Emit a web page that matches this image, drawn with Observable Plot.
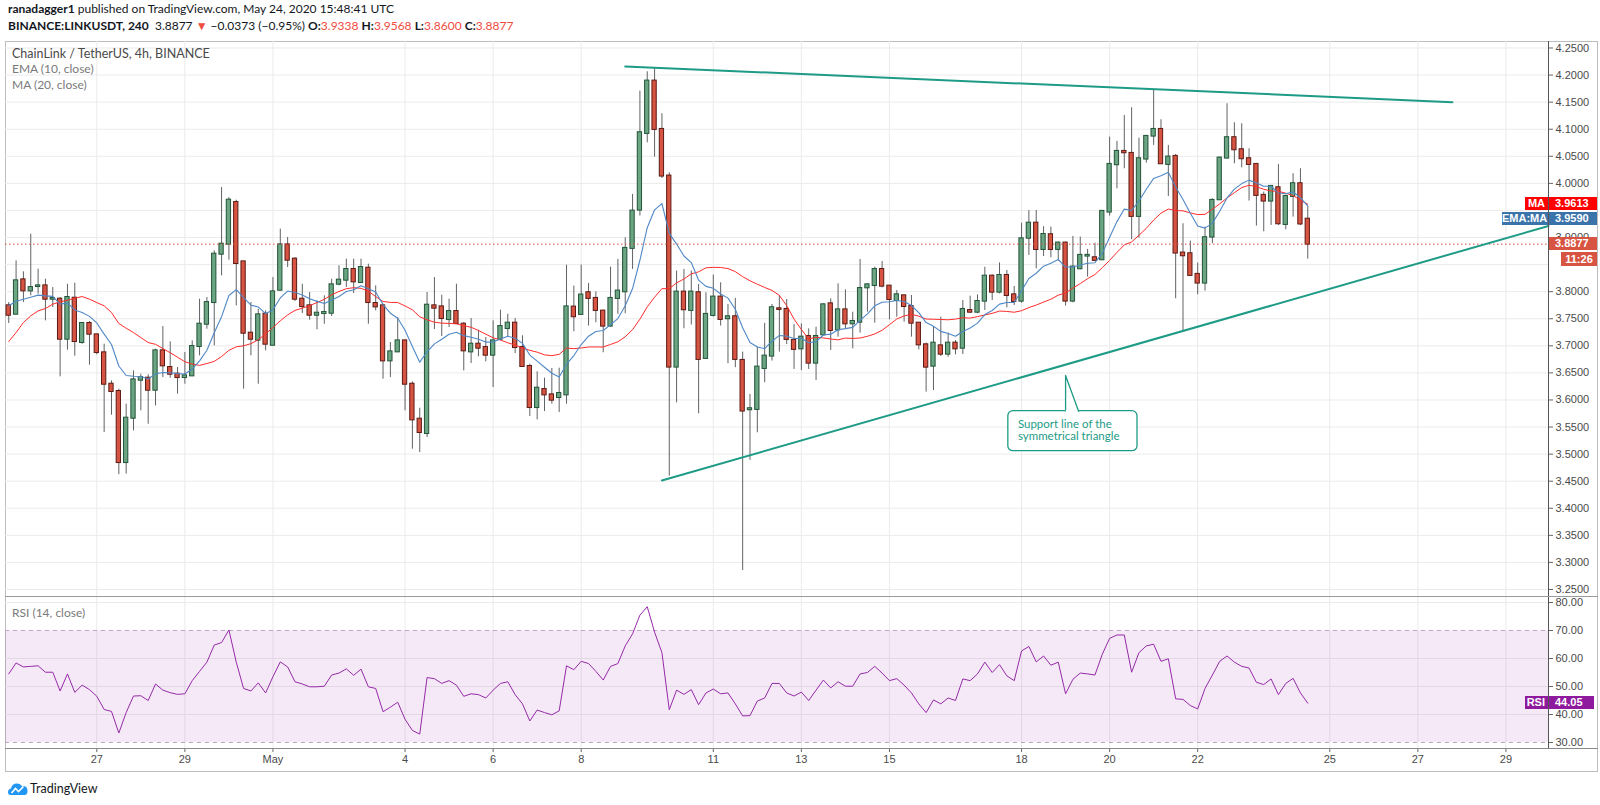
<!DOCTYPE html>
<html>
<head>
<meta charset="utf-8">
<script src="https://cdn.jsdelivr.net/npm/d3@7"></script>
<script src="https://cdn.jsdelivr.net/npm/@observablehq/plot@0.6"></script>
<style>
html, body { margin:0; padding:0; background:#fff; }
body { width:1600px; height:805px; position:relative; overflow:hidden; font-family: Lato, "Open Sans", sans-serif; color:#131722; }
.abs { position:absolute; white-space:nowrap; }
.hdr { left:8px; font-size:12px; line-height:15px; }
.red { color:#ef4b3f; }
.leg { left:12px; font-size:12px; line-height:15px; color:#7a7a7a; }
.box { position:absolute; color:#fff; font: bold 11px "Liberation Sans", Arial, sans-serif; box-sizing:border-box; white-space:nowrap; }
.ln { position:absolute; }
</style>
</head>
<body>
<div class="abs hdr" style="top:1px"><b>ranadagger1</b> published on TradingView.com, May 24, 2020 15:48:41 UTC</div>
<div class="abs hdr" id="quote" style="top:18px"></div>
<div class="abs" style="left:5px;top:41px;width:1593px;height:731px;border:1px solid #bdbdbd;box-sizing:border-box"></div>
<div class="abs" id="mainWrap" style="left:0;top:41px"></div>
<div class="abs" id="rsiWrap" style="left:0;top:597px"></div>
<div class="ln" style="left:1548px;top:41px;width:1px;height:707px;background:#555"></div>
<div class="ln" style="left:5px;top:596px;width:1593px;height:1px;background:#9a9a9a"></div>
<div class="ln" style="left:5px;top:748px;width:1593px;height:1px;background:#8a8a8a"></div>
<div class="abs leg" style="top:46px;color:#4a4a4a;font-size:12.5px">ChainLink / TetherUS, 4h, BINANCE</div>
<div class="abs leg" style="top:61px">EMA (10, close)</div>
<div class="abs leg" style="top:77px">MA (20, close)</div>
<div class="abs leg" style="top:605px">RSI (14, close)</div>
<div class="abs" style="left:8px;top:781px">
  <svg width="20" height="16" viewBox="0 0 20 16"><path d="M2.5 14 Q0 14 0 11 Q0 8 3 7.5 Q4 2.5 9 2.5 Q12.5 2.5 14 5.5 Q15 4.8 16.5 5.2 Q19.5 6 19.5 10 Q19.5 14 16.5 14 Z" fill="#2196f3"/><polyline points="3.5,12 7.5,7.5 10.5,10.5 15.5,5.5" fill="none" stroke="#fff" stroke-width="1.6"/></svg>
</div>
<div class="abs" style="left:30px;top:781px;font-size:12.5px;color:#131722">TradingView</div>
<div id="labels"></div>
<script>
// ---- data (4h candles, first bar 2020-04-25 00:00 UTC) ----
const firstBarTime = "2020-04-25T00:00:00Z";
const barHours = 4;
const opens = [3.7738,3.7584,3.8218,3.8015,3.8095,3.8107,3.7861,3.7861,3.7122,3.7879,3.7061,3.7412,
3.7202,3.6870,3.6291,3.6156,3.4844,3.5663,3.6365,3.6402,3.6180,3.6907,
3.6599,3.6476,3.6414,3.6445,3.6987,3.7399,3.7799,3.8692,3.8877,3.9646,
3.8550,3.7233,3.7104,3.7584,3.7011,3.8027,3.8864,3.8600,3.7861,3.7738,
3.7565,3.7596,3.7602,3.8138,3.8212,3.8409,3.8169,3.8433,3.7781,3.7738,
3.6722,3.6888,3.7091,3.6291,3.5645,3.5380,3.7738,3.7719,3.7485,3.7633,
3.7399,3.6888,3.7030,3.6968,3.6827,3.7122,3.7319,3.7418,3.6968,3.6618,
3.5860,3.6193,3.6094,3.6045,3.6094,3.7715,3.7580,3.7980,3.7875,3.7641,
3.7364,3.7875,3.7998,3.8799,3.9507,4.0922,4.1889,4.0996,4.0135,3.6607,
3.7992,3.7654,3.7980,3.6767,3.7561,3.7900,3.7500,3.7537,3.6730,3.5819,
3.5825,3.6582,3.6810,3.7684,3.7672,3.7100,3.6944,3.7172,3.6680,3.7203,
3.7775,3.7295,3.7664,3.7406,3.7437,3.8071,3.8114,3.8409,3.8102,3.7837,
3.7923,3.7726,3.7418,3.7018,3.6624,3.6999,3.6846,3.7049,3.6956,3.7652,
3.7621,3.7825,3.8286,3.7991,3.8299,3.7941,3.7825,3.8988,3.9265,3.8779,
3.9051,3.8780,3.8897,3.7826,3.8423,3.8657,3.8626,3.8589,3.9470,4.0344,
4.0590,4.0553,3.9390,4.0449,4.0873,4.0996,4.0350,4.0498,3.8713,3.8700,
3.8319,3.8159,3.9008,3.9697,4.0467,4.0843,4.0621,4.0455,4.0350,3.9778,
3.9673,3.9919,3.9242,3.9759,3.9993,3.9338];
const highs = [3.7799,3.8569,3.8366,3.9061,3.8415,3.8230,3.8076,3.7892,3.8138,3.8156,3.7430,3.7448,
3.7215,3.7030,3.6353,3.6199,3.5922,3.6537,3.6476,3.6464,3.6938,3.7356,
3.7073,3.6599,3.6876,3.7091,3.7861,3.7892,3.8754,3.9923,3.9738,3.9689,
3.8550,3.7799,3.7676,3.7645,3.8261,3.9154,3.9000,3.8630,3.8138,3.7984,
3.7830,3.7923,3.8230,3.8477,3.8600,3.8600,3.8600,3.8507,3.8107,3.7769,
3.7061,3.7522,3.7104,3.6334,3.5848,3.7984,3.8261,3.7935,3.7861,3.8138,
3.7430,3.7504,3.7288,3.7153,3.7461,3.7658,3.7584,3.7504,3.7184,3.6661,
3.6519,3.6402,3.6581,3.6587,3.8489,3.8103,3.8491,3.8152,3.7998,3.7654,
3.8454,3.8596,3.8996,3.9796,4.1704,4.2061,4.2135,4.1286,4.0196,3.8380,
3.8411,3.8380,3.8134,3.7980,3.8306,3.8165,3.7764,3.7875,3.6884,3.6102,
3.6977,3.7414,3.7764,3.7918,3.7857,3.7395,3.7406,3.7314,3.7344,3.7775,
3.7868,3.8145,3.8034,3.7621,3.8594,3.8145,3.8452,3.8557,3.8102,3.8022,
3.7929,3.7929,3.7418,3.7049,3.7344,3.7529,3.7234,3.7098,3.7837,3.7917,
3.7941,3.8452,3.8311,3.8532,3.8391,3.8095,3.9265,3.9499,3.9499,3.9200,
3.9193,3.8916,3.8916,3.9020,3.9008,3.8780,3.8897,3.9501,4.0855,4.0775,
4.1255,4.1397,4.0836,4.0886,4.1729,4.1175,4.0701,4.0535,3.9254,3.8934,
3.8528,3.9193,3.9716,4.0485,4.1470,4.1120,4.1101,4.0639,4.0362,3.9839,
3.9962,4.0350,3.9778,4.0178,4.0270,3.9568];
const lows = [3.7412,3.7570,3.7799,3.7923,3.7953,3.7461,3.7707,3.6427,3.6919,3.6808,3.7030,3.6642,
3.6833,3.5399,3.5719,3.4620,3.4630,3.5429,3.5799,3.5552,3.5891,3.6414,
3.6402,3.6107,3.6291,3.6433,3.6814,3.7307,3.6999,3.8292,3.8581,3.7738,
3.6199,3.6814,3.6291,3.6907,3.6999,3.8015,3.8446,3.7818,3.7596,3.7473,
3.7295,3.7399,3.7541,3.8107,3.8076,3.7966,3.8156,3.7399,3.7645,3.6384,
3.6414,3.6876,3.5799,3.5091,3.5029,3.5306,3.7301,3.7171,3.7338,3.7399,
3.6537,3.6673,3.6796,3.6704,3.6230,3.7091,3.7153,3.6857,3.6599,3.5694,
3.5632,3.5786,3.5922,3.5768,3.5922,3.7260,3.7567,3.7364,3.7426,3.6872,
3.7346,3.7580,3.7592,3.8411,3.9396,4.0750,4.0485,4.0091,3.4594,3.5948,
3.7315,3.7383,3.5745,3.6760,3.7531,3.7364,3.6669,3.6595,3.2850,3.4884,
3.5394,3.6318,3.6718,3.6884,3.7026,3.6564,3.6544,3.6563,3.6359,3.7190,
3.6913,3.7160,3.7314,3.6944,3.7234,3.7621,3.7418,3.8071,3.7480,3.7529,
3.7437,3.7160,3.6926,3.6144,3.6175,3.6803,3.6790,3.6833,3.6839,3.7603,
3.7591,3.7652,3.7837,3.7960,3.7701,3.7744,3.7788,3.8668,3.8422,3.8649,
3.8626,3.8565,3.7734,3.7795,3.8405,3.8269,3.8565,3.8577,3.9396,3.9901,
4.0270,3.8959,3.8990,4.0375,4.0701,4.0350,3.9759,3.7869,3.7280,3.8282,
3.7943,3.8011,3.8885,3.9685,4.0455,4.0362,4.0288,3.9673,3.9211,3.9106,
3.9223,3.9223,3.9143,3.9377,3.9220,3.8600];
const closes = [3.7565,3.8200,3.8015,3.8076,3.8107,3.7861,3.7873,3.7122,3.7892,3.7079,3.7412,3.7215,
3.6876,3.6291,3.6156,3.4844,3.5663,3.6371,3.6414,3.6180,3.6907,3.6630,
3.6476,3.6414,3.6445,3.6987,3.7399,3.7799,3.8692,3.8877,3.9689,3.8520,
3.7233,3.7122,3.7572,3.7030,3.7996,3.8864,3.8581,3.7861,3.7725,3.7565,
3.7602,3.7615,3.8126,3.8212,3.8409,3.8181,3.8446,3.7799,3.7719,3.6722,
3.6888,3.7091,3.6291,3.5632,3.5399,3.7750,3.7695,3.7504,3.7633,3.7412,
3.6907,3.7030,3.6956,3.6827,3.7091,3.7356,3.7418,3.6968,3.6618,3.5860,
3.6217,3.6094,3.5996,3.6119,3.7719,3.7537,3.7937,3.7875,3.7654,3.7364,
3.7875,3.8011,3.8799,3.9488,4.0935,4.1889,4.0996,4.0135,3.6607,3.7992,
3.7666,3.7992,3.6749,3.7580,3.7900,3.7487,3.7537,3.6749,3.5795,3.5838,
3.6607,3.6810,3.7703,3.7672,3.7118,3.6934,3.7160,3.6680,3.7172,3.7757,
3.7283,3.7664,3.7406,3.7449,3.8058,3.8126,3.8409,3.8102,3.7855,3.7942,
3.7726,3.7418,3.7018,3.6606,3.7049,3.6846,3.7049,3.6944,3.7671,3.7621,
3.7818,3.8286,3.7991,3.8299,3.7929,3.7818,3.8976,3.9265,3.8779,3.9056,
3.8780,3.8897,3.7826,3.8454,3.8670,3.8670,3.8577,3.9482,4.0350,4.0590,
4.0565,3.9390,4.0455,4.0867,4.0996,4.0362,4.0486,3.8713,3.8663,3.8300,
3.8159,3.8996,3.9685,4.0467,4.0843,4.0621,4.0455,4.0350,3.9778,3.9673,
3.9944,3.9254,3.9759,3.9993,3.9250,3.8877];
const rsiValues = [54.5,58.4,57,57.2,57.4,55.1,55.1,48.4,54.5,47.9,50.5,48.9,
46.5,41.8,41.1,33.4,40.7,46.6,46.7,45,50.9,48.7,
47.8,47.2,47.4,52.1,55.4,58.7,64.8,65.7,70.2,58.7,
49.3,48.4,51.3,47.7,53.5,58.8,57,51.7,50.9,49.9,
49.9,50.1,54.1,54.8,56.3,54,56.2,49.9,49.3,41,
42.6,44.4,38.3,34.3,33,53.2,52.8,51.1,52.1,50.5,
46.5,47.4,47.1,45.9,48.7,51.1,51.7,47.1,43.8,37.7,
41.6,40.7,39.9,41.3,57.4,56,59,58.2,55.4,52.3,
57.2,58.2,64.5,68.8,75.5,78.5,69.4,62.1,41.7,48.7,
47.2,48.9,43.5,47.7,49.1,47.4,47.7,43.8,39.5,39.6,
44.8,45.9,51.1,51.1,47.7,46.6,48,45,48.7,52.3,
49.5,51.7,50.1,50.1,54.5,55,57.2,54.8,52.1,52.8,
50.5,47.7,43.8,40.7,45.2,43.8,45.9,45,52.7,52.1,
54.5,58.7,55,57.8,53.8,52.1,62.7,64.3,58.8,60.9,
57.6,58.7,47.4,52.6,54.8,54.5,54.1,61.5,67.2,68.4,
68.4,55.1,62.1,64.5,65.1,59,59.9,45.6,45.4,43.2,
42,49.3,54.1,59,60.9,58.7,57.2,56.6,51.5,50.7,
52.7,47.1,51.1,52.9,47.7,44.05];
// MA(20) values for the first 19 bars (before a full window exists)
const maHead = [3.7079,3.7245,3.7430,3.7553,3.7645,3.7688,3.7769,3.7812,3.7842,3.7879,3.7910,3.7861,3.7799,3.7738,3.7615,3.7412,3.7325,3.7245,3.7153];
const emaSeed = 3.774;  // EMA(10) at first bar
const emaLength = 10, maLength = 20;
// ---- axes ----
const xDomain = ["2020-04-24T22:14:00Z", "2020-05-29T23:12:00Z"];
const priceDomain = [3.2352, 4.262];
const rsiDomain = [27.86, 81.79];
const priceTicks = [4.25,4.20,4.15,4.10,4.05,4.00,3.95,3.90,3.85,3.80,3.75,3.70,3.65,3.60,3.55,3.50,3.45,3.40,3.35,3.30,3.25];
const hiddenPriceTicks = [3.95, 3.85]; // covered by the value labels on the price scale
const rsiTicks = [80,70,60,50,40,30];
const rsiGrid = [80,60,50,40];
const rsiBand = [30,70];
const tickDates = ["2020-04-27","2020-04-29","2020-05-01","2020-05-04","2020-05-06","2020-05-08","2020-05-11","2020-05-13","2020-05-15","2020-05-18","2020-05-20","2020-05-22","2020-05-25","2020-05-27","2020-05-29"];
const tickLabels = ["27","29","May","4","6","8","11","13","15","18","20","22","25","27","29"];
// ---- drawings ----
const resistanceLine = [{t:"2020-05-09T00:00:00Z", p:4.216},{t:"2020-05-27T18:50:00Z", p:4.150}];
const supportLine = [{t:"2020-05-09T20:00:00Z", p:3.4513},{t:"2020-05-29T23:12:00Z", p:3.9213}];
const calloutText = "Support line of the\nsymmetrical triangle";
const calloutTip = [{t:"2020-05-19T00:00:00Z", p:3.5793},{t:"2020-05-19T00:00:00Z", p:3.6452},{t:"2020-05-19T07:05:00Z", p:3.5793}];
const calloutBox = {t1:"2020-05-17T16:48:00Z", t2:"2020-05-20T15:12:00Z", p1:3.5054, p2:3.5793};
const calloutTextAt = {t:"2020-05-17T22:00:00Z", p:3.5445};
const headerQuote = {last:"3.8877", change:"−0.0373", pct:"(−0.95%)"};
const labelValues = {ma:"3.9613", ema:"3.9590", price:"3.8877", timer:"11:26", rsi:"44.05"};

// ---- derived ----
const D = s => new Date(s);
const t0 = Date.parse(firstBarTime), barMs = barHours*3600e3;
const bars = closes.map((c,k) => ({t:new Date(t0 + k*barMs), o:opens[k], h:highs[k], l:lows[k], c, rsi:rsiValues[k]}));
const alpha = 2/(emaLength+1);
const ema = [];
bars.forEach((d,k) => ema.push({t:d.t, v: k===0 ? emaSeed : alpha*d.c + (1-alpha)*ema[k-1].v}));
const ma = bars.map((d,k) => ({t:d.t, v: k < maLength-1 ? maHead[k] : d3.mean(closes.slice(k-maLength+1, k+1))}));
const up = bars.filter(d => d.c >= d.o), dn = bars.filter(d => d.c < d.o);
const half = 70*60e3;
const X1 = d => new Date(+d.t - half), X2 = d => new Date(+d.t + half);
const ticksD = tickDates.map(D);
const labelOf = new Map(ticksD.map((d,k) => [+d, tickLabels[k]]));
const teal = "#1e9b86";
const axisFont = "'Liberation Sans', Arial, sans-serif";
const last = bars[bars.length-1];
const shownPriceTicks = priceTicks.filter(v => !hiddenPriceTicks.includes(v));

document.getElementById("quote").innerHTML =
  `<b>BINANCE:LINKUSDT, 240</b>&nbsp; ${headerQuote.last} <span class="red">▼</span> ${headerQuote.change} ${headerQuote.pct} ` +
  `<b>O:</b><span class="red">${last.o.toFixed(4)}</span> <b>H:</b><span class="red">${last.h.toFixed(4)}</span> ` +
  `<b>L:</b><span class="red">${last.l.toFixed(4)}</span> <b>C:</b><span class="red">${last.c.toFixed(4)}</span>`;

const main = Plot.plot({
  width: 1600, height: 556,
  marginLeft: 5, marginRight: 52, marginTop: 0, marginBottom: 0,
  x: {type: "utc", domain: xDomain.map(D), axis: null},
  y: {domain: priceDomain, axis: null},
  style: {fontFamily: axisFont, fontSize: "11px", background: "transparent", overflow: "visible"},
  marks: [
    Plot.ruleY(priceTicks, {stroke: "#ebebeb"}),
    Plot.ruleX(ticksD, {stroke: "#ebebeb"}),
    Plot.axisY(shownPriceTicks, {anchor: "right", tickFormat: d => d.toFixed(4), tickSize: 4, tickPadding: 3, fill: "#4a4a4a", stroke: "#666", fontSize: 11}),
    Plot.ruleX(bars, {x: "t", y1: "l", y2: "h", stroke: "#5f6266", strokeWidth: 1}),
    Plot.rect(up, {x1: X1, x2: X2, y1: "o", y2: "c", fill: "#6ba583", stroke: "#225437", strokeWidth: 1, insetTop: -0.5, insetBottom: -0.5}),
    Plot.rect(dn, {x1: X1, x2: X2, y1: "o", y2: "c", fill: "#d75442", stroke: "#5b1a13", strokeWidth: 1, insetTop: -0.5, insetBottom: -0.5}),
    Plot.line(ma, {x: "t", y: "v", stroke: "#ff2b2b", strokeWidth: 1}),
    Plot.line(ema, {x: "t", y: "v", stroke: "#4f88c6", strokeWidth: 1.1}),
    Plot.ruleY([last.c], {stroke: "#d75442", strokeDasharray: "1.5,2.5"}),
    Plot.line(resistanceLine, {x: d => D(d.t), y: "p", stroke: teal, strokeWidth: 2}),
    Plot.line(supportLine, {x: d => D(d.t), y: "p", stroke: teal, strokeWidth: 2}),
    Plot.rect([calloutBox], {x1: d => D(d.t1), x2: d => D(d.t2), y1: "p1", y2: "p2", fill: "white", stroke: teal, strokeWidth: 1.3, rx: 5}),
    Plot.line(calloutTip, {x: d => D(d.t), y: "p", stroke: teal, fill: "white", strokeWidth: 1.3}),
    Plot.ruleY([calloutTip[0]], {y: "p", x1: d => new Date(+D(d.t) + 20*60e3), x2: () => new Date(+D(calloutTip[2].t) - 25*60e3), stroke: "white", strokeWidth: 2}),
    Plot.text([calloutTextAt], {x: d => D(d.t), y: "p", text: () => calloutText, textAnchor: "start", lineAnchor: "middle", fill: teal, fontSize: 11.5, lineHeight: 1.08, fontFamily: "Lato, 'Open Sans', sans-serif"})
  ]
});
document.getElementById("mainWrap").append(main);

const rsiPlot = Plot.plot({
  width: 1600, height: 175,
  marginLeft: 5, marginRight: 52, marginTop: 0, marginBottom: 24,
  x: {type: "utc", domain: xDomain.map(D), axis: null},
  y: {domain: rsiDomain, axis: null},
  style: {fontFamily: axisFont, fontSize: "11px", background: "transparent", overflow: "visible"},
  marks: [
    Plot.ruleX(ticksD, {stroke: "#ebebeb"}),
    Plot.ruleY(rsiGrid, {stroke: "#ebebeb"}),
    Plot.rect([{t1: D(xDomain[0]), t2: D(xDomain[1]), r1: rsiBand[0], r2: rsiBand[1]}], {x1: "t1", x2: "t2", y1: "r1", y2: "r2", fill: "#9c27b0", fillOpacity: 0.1}),
    Plot.ruleY(rsiBand, {stroke: "#b9a8c0", strokeDasharray: "4,4"}),
    Plot.line(bars, {x: "t", y: "rsi", stroke: "#952aa8", strokeWidth: 1}),
    Plot.axisY(rsiTicks, {anchor: "right", tickFormat: d => d.toFixed(2), tickSize: 4, tickPadding: 3, fill: "#4a4a4a", stroke: "#666", fontSize: 11}),
    Plot.axisX(ticksD, {anchor: "bottom", tickFormat: d => labelOf.get(+d), tickSize: 4, tickPadding: 3, fill: "#4a4a4a", stroke: "#666", fontSize: 11})
  ]
});
document.getElementById("rsiWrap").append(rsiPlot);

// ---- right-side value labels, positioned through the plots' own y scales ----
const ys = main.scale("y"), yr = rsiPlot.scale("y");
const L = document.getElementById("labels");
function box(left, yc, w, h, bg, txt, align) {
  const b = document.createElement("div");
  b.className = "box";
  Object.assign(b.style, {left: left+"px", top: (yc - h/2)+"px", width: w+"px", height: h+"px", lineHeight: h+"px", background: bg, textAlign: align, padding: align === "left" ? "0 0 0 6px" : (align === "right" ? "0 3px 0 0" : "0")});
  b.textContent = txt;
  L.appendChild(b);
}
const yMA = 41 + ys.apply(+labelValues.ma);
const yEMA = Math.max(41 + ys.apply(+labelValues.ema), yMA + 14.5);
const yP = 41 + ys.apply(last.c);
const yR = 597 + yr.apply(+labelValues.rsi);
box(1525, yMA, 23, 13, "#ff0000", "MA", "right");
box(1549, yMA, 48, 13, "#ff0000", labelValues.ma, "left");
box(1502, yEMA, 46, 13, "#3b74ab", "EMA:MA", "right");
box(1549, yEMA, 48, 13, "#3b74ab", labelValues.ema, "left");
box(1549, yP, 48, 13, "#d75442", labelValues.price, "left");
box(1561, yP + 15.5, 36, 14, "#d75442", labelValues.timer, "center");
box(1525, yR, 23, 13, "#8e1a9d", "RSI", "right");
box(1549, yR, 45, 13, "#8e1a9d", labelValues.rsi, "left");
</script>
</body>
</html>
